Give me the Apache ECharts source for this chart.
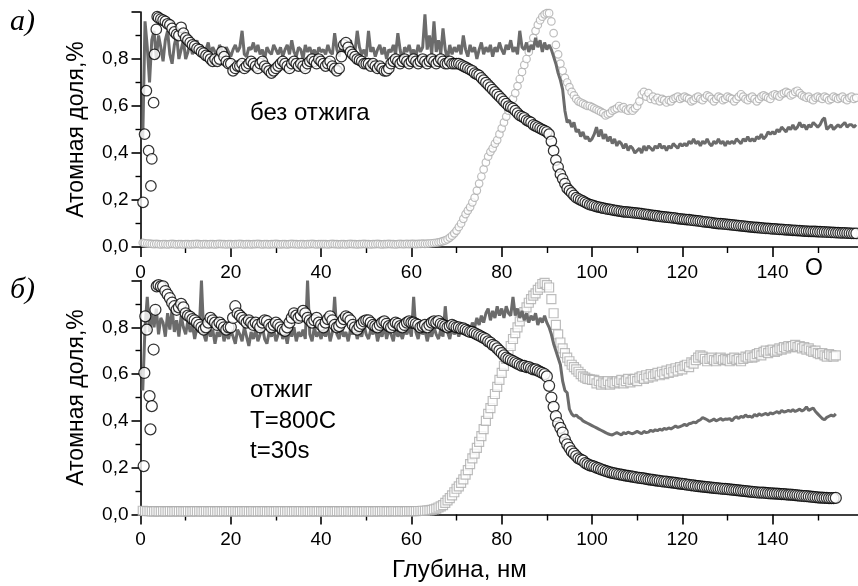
<!DOCTYPE html>
<html>
<head>
<meta charset="utf-8">
<script src="https://cdn.jsdelivr.net/npm/echarts@6/dist/echarts.min.js"></script>
<style>
  html, body { margin: 0; padding: 0; background: #fff; }
  #chart { width: 858px; height: 586px; }
</style>
</head>
<body>
<div id="chart"></div>
<script>
// Depth profiles (nm) of atomic fraction, sampled every 0.5 nm.
const STEP = 0.5;
const X_TICKS = [0, 20, 40, 60, 80, 100, 120, 140];
const Y_TICKS = [0.0, 0.2, 0.4, 0.6, 0.8];

// ---------- а) без отжига ----------
// dark line, from 0.5 nm
const lineA = [
  0.46,0.96,0.85,0.70,0.88,0.92,0.80,0.90,0.85,0.79, 0.88,0.92,0.82,0.78,0.86,0.90,0.80,0.84,0.88,0.80,
  0.83,0.87,0.82,0.85,0.88,0.83,0.86,0.81,0.84,0.87, 0.82,0.85,0.83,0.80,0.86,0.84,0.82,0.85,0.83,0.81,
  0.84,0.86,0.83,0.85,0.92,0.82,0.81,0.85,0.84,0.87, 0.83,0.86,0.82,0.84,0.80,0.85,0.83,0.82,0.86,0.84,
  0.82,0.85,0.81,0.84,0.86,0.82,0.88,0.83,0.81,0.85, 0.84,0.80,0.86,0.83,0.85,0.82,0.84,0.81,0.85,0.83,
  0.84,0.82,0.86,0.83,0.82,0.91,0.84,0.81,0.86,0.83, 0.85,0.82,0.88,0.84,0.83,0.92,0.85,0.82,0.84,0.81,
  0.92,0.83,0.85,0.81,0.84,0.86,0.82,0.85,0.80,0.84, 0.83,0.86,0.82,0.91,0.84,0.79,0.85,0.83,0.86,0.82,
  0.84,0.81,0.86,0.83,0.85,0.99,0.84,0.90,0.82,0.96, 0.83,0.88,0.82,0.93,0.84,0.80,0.86,0.82,0.85,0.83,
  0.86,0.82,0.90,0.84,0.81,0.86,0.83,0.85,0.80,0.84, 0.87,0.82,0.85,0.83,0.86,0.81,0.85,0.83,0.87,0.84,
  0.82,0.86,0.84,0.88,0.83,0.85,0.82,0.92,0.85,0.84, 0.87,0.83,0.86,0.84,0.89,0.85,0.88,0.83,0.87,0.84,
  0.86,0.84,0.81,0.78,0.74,0.71,0.67,0.58,0.53,0.54, 0.51,0.53,0.49,0.50,0.47,0.49,0.46,0.47,0.45,0.46,
  0.48,0.51,0.47,0.50,0.46,0.48,0.45,0.47,0.44,0.46, 0.43,0.45,0.44,0.42,0.44,0.41,0.43,0.42,0.40,0.41,
  0.42,0.40,0.43,0.41,0.43,0.42,0.41,0.43,0.42,0.44, 0.42,0.43,0.41,0.43,0.42,0.44,0.43,0.42,0.44,0.43,
  0.44,0.43,0.45,0.44,0.46,0.44,0.45,0.43,0.45,0.44, 0.46,0.44,0.43,0.45,0.44,0.46,0.44,0.45,0.43,0.45,
  0.44,0.45,0.44,0.46,0.45,0.44,0.46,0.45,0.47,0.45, 0.46,0.45,0.47,0.46,0.48,0.46,0.47,0.49,0.48,0.49,
  0.48,0.50,0.49,0.51,0.50,0.49,0.51,0.50,0.52,0.50, 0.51,0.53,0.51,0.52,0.50,0.52,0.51,0.53,0.52,0.51,
  0.52,0.54,0.55,0.50,0.51,0.52,0.50,0.51,0.52,0.51, 0.52,0.53,0.51,0.52,0.52,0.51,0.52
];
// light grey circles, from 0.5 nm
const grayA = [
  0.018,0.016,0.015,0.014,0.013,0.012,0.013,0.012,0.011,0.012, 0.012,0.011,0.012,0.013,0.012,0.011,0.012,0.012,0.011,0.012,
  0.012,0.011,0.012,0.012,0.013,0.012,0.011,0.012,0.012,0.011, 0.012,0.012,0.011,0.012,0.013,0.012,0.012,0.011,0.012,0.012,
  0.011,0.012,0.012,0.013,0.012,0.011,0.012,0.012,0.011,0.012, 0.012,0.013,0.012,0.011,0.012,0.012,0.011,0.012,0.012,0.013,
  0.012,0.011,0.012,0.012,0.011,0.012,0.013,0.012,0.012,0.011, 0.012,0.012,0.011,0.012,0.012,0.013,0.012,0.011,0.012,0.012,
  0.012,0.012,0.011,0.012,0.013,0.012,0.012,0.011,0.012,0.012, 0.011,0.012,0.013,0.012,0.012,0.011,0.012,0.012,0.013,0.012,
  0.012,0.011,0.012,0.012,0.013,0.012,0.011,0.012,0.012,0.013, 0.012,0.012,0.011,0.012,0.013,0.012,0.012,0.013,0.012,0.013,
  0.013,0.012,0.013,0.013,0.014,0.013,0.014,0.015,0.016,0.017, 0.018,0.020,0.022,0.025,0.028,0.033,0.040,0.048,0.058,0.070,
  0.085,0.100,0.120,0.140,0.155,0.170,0.190,0.210,0.240,0.270, 0.300,0.330,0.360,0.385,0.405,0.420,0.440,0.455,0.480,0.505,
  0.530,0.555,0.580,0.600,0.630,0.655,0.685,0.715,0.745,0.775, 0.800,0.830,0.860,0.890,0.920,0.945,0.965,0.980,0.990,0.995,
  0.995,0.960,0.910,0.860,0.820,0.780,0.750,0.720,0.700,0.680, 0.660,0.645,0.630,0.620,0.615,0.610,0.605,0.600,0.600,0.595,
  0.590,0.585,0.580,0.575,0.570,0.560,0.565,0.570,0.580,0.585, 0.590,0.600,0.590,0.595,0.585,0.580,0.590,0.580,0.590,0.600,
  0.620,0.650,0.660,0.640,0.655,0.630,0.640,0.625,0.635,0.620, 0.630,0.625,0.615,0.625,0.620,0.630,0.635,0.640,0.630,0.635,
  0.640,0.635,0.630,0.620,0.625,0.635,0.640,0.630,0.625,0.635, 0.645,0.640,0.630,0.620,0.630,0.640,0.635,0.625,0.630,0.640,
  0.635,0.630,0.620,0.630,0.640,0.650,0.640,0.630,0.625,0.635, 0.640,0.630,0.620,0.630,0.640,0.645,0.640,0.635,0.630,0.645,
  0.650,0.645,0.640,0.650,0.655,0.660,0.655,0.645,0.650,0.660, 0.665,0.655,0.645,0.640,0.635,0.640,0.630,0.625,0.635,0.640,
  0.635,0.630,0.640,0.635,0.625,0.630,0.640,0.635,0.630,0.635, 0.640,0.630,0.625,0.635,0.640,0.630,0.635
];
// open black circles: scattered surface points, then regular samples from 4.0 nm
const surfDepthA = [0.56, 0.9, 1.3, 1.8, 2.3, 2.5, 2.9, 3.1, 3.5, 3.7];
const surfA      = [0.19, 0.48, 0.665, 0.41, 0.26, 0.375, 0.614, 0.82, 0.926, 0.98];
const oxygenA = [
  0.975,0.970,0.965,0.960,0.950,0.945,0.930,0.915,0.905,0.900,0.935,0.910,0.890,
  0.880,0.870,0.860,0.855,0.845,0.840,0.830,0.825,0.815,0.810, 0.800,0.790,0.800,0.790,0.800,0.830,0.810,0.790,0.780,0.780,
  0.750,0.760,0.770,0.770,0.780,0.760,0.770,0.780,0.790,0.780, 0.770,0.760,0.780,0.790,0.770,0.760,0.750,0.740,0.750,0.760,
  0.770,0.780,0.790,0.780,0.770,0.760,0.780,0.790,0.780,0.770, 0.780,0.770,0.760,0.780,0.790,0.800,0.790,0.780,0.800,0.790,
  0.780,0.770,0.780,0.790,0.770,0.760,0.750,0.760,0.810,0.860, 0.870,0.850,0.830,0.820,0.810,0.800,0.795,0.790,0.780,0.780,
  0.780,0.770,0.780,0.770,0.760,0.770,0.760,0.750,0.750,0.760, 0.780,0.790,0.800,0.790,0.780,0.790,0.800,0.790,0.780,0.790,
  0.800,0.790,0.780,0.790,0.800,0.790,0.780,0.790,0.800,0.790, 0.780,0.790,0.800,0.790,0.780,0.780,0.790,0.780,0.780,0.780,
  0.780,0.775,0.770,0.765,0.760,0.755,0.750,0.740,0.735,0.730, 0.720,0.710,0.700,0.690,0.680,0.670,0.660,0.650,0.640,0.630,
  0.620,0.610,0.600,0.595,0.590,0.580,0.570,0.560,0.555,0.550, 0.540,0.535,0.530,0.520,0.515,0.510,0.505,0.500,0.495,0.490,
  0.480,0.450,0.410,0.370,0.340,0.310,0.290,0.270,0.250,0.240, 0.230,0.220,0.210,0.205,0.200,0.195,0.190,0.185,0.180,0.178,
  0.175,0.172,0.170,0.168,0.165,0.163,0.161,0.160,0.158,0.156, 0.155,0.153,0.152,0.150,0.149,0.148,0.147,0.146,0.145,0.144,
  0.143,0.142,0.140,0.139,0.138,0.136,0.135,0.133,0.132,0.130, 0.129,0.128,0.127,0.126,0.125,0.124,0.123,0.121,0.120,0.119,
  0.118,0.117,0.116,0.114,0.113,0.112,0.111,0.110,0.108,0.107, 0.106,0.105,0.104,0.102,0.101,0.100,0.099,0.098,0.097,0.096,
  0.095,0.094,0.093,0.092,0.091,0.090,0.089,0.088,0.087,0.086, 0.085,0.084,0.083,0.082,0.081,0.080,0.079,0.079,0.078,0.077,
  0.077,0.076,0.075,0.075,0.074,0.073,0.073,0.072,0.071,0.071, 0.070,0.070,0.069,0.068,0.068,0.067,0.067,0.066,0.066,0.065,
  0.065,0.064,0.064,0.063,0.063,0.062,0.062,0.061,0.061,0.060, 0.060,0.060,0.059,0.059,0.058,0.058,0.058
];

// ---------- б) отжиг T=800C, t=30s ----------
const lineB = [
  0.53,0.80,0.93,0.78,0.86,0.80,0.88,0.77,0.84,0.82, 0.76,0.86,0.79,0.88,0.78,0.83,0.76,0.85,0.80,0.77,
  0.83,0.78,0.81,0.75,0.80,0.78,1.00,0.77,0.74,0.80, 0.76,0.79,0.73,0.78,0.76,0.80,0.74,0.78,0.75,0.79,
  0.76,0.73,0.79,0.77,0.74,0.80,0.76,0.72,0.78,0.75, 0.79,0.74,0.77,0.80,0.75,0.73,0.78,0.76,0.79,0.74,
  0.77,0.80,0.75,0.78,0.73,0.79,0.76,0.80,0.74,0.78, 0.76,0.79,0.75,1.00,0.77,0.74,0.80,0.76,0.78,0.75,
  0.79,0.76,0.80,0.74,0.78,0.93,0.77,0.75,0.80,0.76, 0.78,0.74,0.79,0.77,0.80,0.75,0.78,0.76,0.81,0.77,
  0.75,0.79,0.77,0.80,0.74,0.78,0.76,0.81,0.75,0.79, 0.77,0.74,0.80,0.76,0.78,0.75,0.79,0.77,0.80,0.76,
  0.93,0.78,0.75,0.80,0.77,0.79,0.74,0.78,0.76,0.80, 0.77,0.75,0.79,0.76,0.89,0.78,0.75,0.80,0.77,0.79,
  0.76,0.80,0.77,0.79,0.81,0.78,0.82,0.80,0.84,0.81, 0.85,0.82,0.86,0.88,0.83,0.87,0.84,0.89,0.85,0.88,
  0.84,0.89,0.86,0.85,0.93,0.85,0.88,0.84,0.87,0.83, 0.86,0.82,0.85,0.83,0.86,0.81,0.84,0.82,0.85,0.82,
  0.80,0.77,0.73,0.70,0.67,0.64,0.57,0.53,0.52,0.45, 0.43,0.42,0.425,0.415,0.41,0.40,0.395,0.39,0.385,0.38,
  0.375,0.37,0.365,0.36,0.355,0.35,0.345,0.342,0.34,0.345, 0.35,0.345,0.34,0.35,0.345,0.352,0.348,0.345,0.35,0.355,
  0.35,0.345,0.355,0.35,0.352,0.36,0.355,0.362,0.358,0.365, 0.36,0.368,0.364,0.37,0.366,0.372,0.378,0.372,0.376,0.38,
  0.385,0.38,0.388,0.39,0.395,0.392,0.40,0.405,0.414,0.41, 0.405,0.398,0.402,0.408,0.40,0.405,0.41,0.403,0.408,0.407,
  0.41,0.40,0.412,0.418,0.41,0.42,0.415,0.425,0.418,0.42, 0.415,0.428,0.42,0.43,0.424,0.428,0.432,0.425,0.435,0.43,
  0.435,0.44,0.432,0.445,0.438,0.44,0.445,0.44,0.448,0.44, 0.445,0.45,0.442,0.448,0.46,0.445,0.45,0.455,0.44,0.43,
  0.42,0.41,0.405,0.415,0.42,0.425,0.42,0.43
];
// light grey squares, from 0.5 nm
const grayB = [
  0.016,0.015,0.014,0.014,0.013,0.013,0.014,0.013,0.013,0.014, 0.013,0.013,0.014,0.013,0.013,0.014,0.013,0.014,0.013,0.013,
  0.014,0.013,0.013,0.014,0.013,0.014,0.013,0.013,0.014,0.013, 0.013,0.014,0.013,0.013,0.014,0.013,0.013,0.014,0.013,0.014,
  0.013,0.014,0.013,0.013,0.014,0.013,0.014,0.013,0.013,0.014, 0.013,0.013,0.014,0.013,0.014,0.013,0.013,0.014,0.013,0.013,
  0.014,0.013,0.014,0.013,0.013,0.014,0.013,0.013,0.014,0.013, 0.014,0.013,0.013,0.014,0.013,0.013,0.014,0.013,0.014,0.013,
  0.013,0.014,0.013,0.014,0.013,0.013,0.014,0.013,0.013,0.014, 0.013,0.014,0.013,0.013,0.014,0.013,0.014,0.013,0.013,0.014,
  0.013,0.014,0.013,0.013,0.014,0.013,0.014,0.014,0.013,0.014, 0.013,0.014,0.014,0.013,0.014,0.014,0.013,0.014,0.014,0.014,
  0.014,0.014,0.015,0.015,0.016,0.016,0.017,0.018,0.020,0.022, 0.025,0.030,0.035,0.040,0.050,0.060,0.070,0.082,0.095,0.110,
  0.120,0.135,0.150,0.170,0.190,0.215,0.240,0.260,0.285,0.310, 0.335,0.365,0.400,0.430,0.455,0.485,0.515,0.545,0.575,0.605,
  0.635,0.665,0.690,0.720,0.750,0.775,0.800,0.825,0.845,0.865, 0.885,0.905,0.920,0.935,0.945,0.960,0.970,0.985,0.990,0.980,
  0.970,0.920,0.860,0.810,0.770,0.735,0.710,0.690,0.670,0.655, 0.640,0.630,0.620,0.610,0.600,0.590,0.585,0.580,0.578,0.575,
  0.575,0.560,0.570,0.555,0.565,0.560,0.570,0.555,0.565,0.560, 0.570,0.565,0.575,0.560,0.570,0.580,0.565,0.575,0.580,0.570,
  0.585,0.590,0.580,0.595,0.585,0.600,0.590,0.600,0.605,0.595, 0.610,0.600,0.615,0.605,0.620,0.610,0.625,0.615,0.630,0.620,
  0.635,0.640,0.630,0.650,0.645,0.660,0.670,0.680,0.675,0.665, 0.655,0.665,0.670,0.660,0.655,0.665,0.670,0.660,0.665,0.660,
  0.655,0.665,0.670,0.660,0.665,0.655,0.665,0.675,0.670,0.680, 0.670,0.675,0.685,0.690,0.680,0.695,0.700,0.690,0.700,0.705,
  0.695,0.700,0.710,0.705,0.715,0.710,0.720,0.715,0.720,0.725, 0.715,0.720,0.710,0.715,0.705,0.710,0.700,0.695,0.700,0.690,
  0.685,0.690,0.680,0.675,0.685,0.680,0.675,0.680
];
const surfDepthB = [0.7, 0.85, 1.06, 1.4, 2.0, 2.2, 2.5, 2.9, 3.3, 3.6];
const surfB      = [0.207, 0.605, 0.847, 0.79, 0.506, 0.364, 0.463, 0.705, 0.875, 0.975];
const oxygenB = [
  0.980,0.975,0.975,0.955,0.940,0.925,0.905,0.890,0.875,0.885,0.900,0.885,0.860,
  0.850,0.845,0.835,0.830,0.820,0.810,0.800,0.790,0.800,0.820, 0.840,0.830,0.820,0.810,0.820,0.810,0.800,0.790,0.800,0.800,
  0.840,0.890,0.860,0.850,0.840,0.830,0.820,0.830,0.820,0.810, 0.820,0.810,0.800,0.820,0.830,0.826,0.810,0.800,0.810,0.820,
  0.810,0.800,0.790,0.785,0.800,0.820,0.840,0.860,0.850,0.840, 0.850,0.870,0.860,0.840,0.830,0.820,0.830,0.840,0.820,0.810,
  0.800,0.820,0.835,0.847,0.830,0.810,0.800,0.805,0.820,0.835, 0.847,0.840,0.830,0.810,0.800,0.790,0.805,0.815,0.825,0.830,
  0.830,0.820,0.810,0.805,0.800,0.810,0.820,0.825,0.815,0.805, 0.800,0.810,0.820,0.815,0.805,0.800,0.810,0.820,0.825,0.820,
  0.820,0.815,0.810,0.800,0.805,0.810,0.800,0.810,0.820,0.825, 0.820,0.826,0.815,0.810,0.805,0.800,0.805,0.810,0.805,0.800,
  0.800,0.795,0.795,0.790,0.785,0.780,0.780,0.775,0.770,0.765, 0.760,0.755,0.750,0.740,0.735,0.725,0.720,0.710,0.700,0.690,
  0.680,0.670,0.665,0.660,0.655,0.650,0.645,0.640,0.635,0.635, 0.630,0.630,0.625,0.620,0.620,0.615,0.610,0.605,0.600,0.590,
  0.550,0.500,0.460,0.420,0.390,0.370,0.350,0.320,0.300,0.285, 0.270,0.260,0.250,0.240,0.235,0.230,0.220,0.215,0.210,0.208,
  0.205,0.200,0.197,0.193,0.190,0.186,0.183,0.180,0.178,0.176, 0.174,0.172,0.170,0.168,0.166,0.165,0.163,0.162,0.160,0.158,
  0.157,0.155,0.154,0.152,0.150,0.149,0.148,0.146,0.145,0.144, 0.142,0.141,0.140,0.138,0.137,0.136,0.135,0.133,0.132,0.131,
  0.130,0.128,0.127,0.125,0.124,0.122,0.121,0.120,0.119,0.118, 0.117,0.116,0.115,0.114,0.113,0.112,0.111,0.110,0.109,0.108,
  0.107,0.106,0.105,0.104,0.103,0.102,0.101,0.100,0.099,0.098, 0.097,0.096,0.095,0.094,0.094,0.093,0.092,0.091,0.090,0.090,
  0.089,0.089,0.088,0.087,0.087,0.086,0.085,0.085,0.084,0.083, 0.082,0.081,0.080,0.079,0.078,0.077,0.076,0.075,0.074,0.073,
  0.072,0.072,0.071,0.071,0.070,0.070,0.070,0.071
];

// ---------- helpers ----------
function seq(start, values) { return values.map((v, i) => [start + i * STEP, v]); }
function pairs(depths, values) { return depths.map((d, i) => [d, values[i]]); }

const FONT = '"Liberation Sans", Arial, Helvetica, sans-serif';
const GRID_LEFT = 140.5, GRID_WIDTH = 722.4;

function xAxisFor(gridIndex) {
  return {
    type: 'value', gridIndex, min: 0, max: 160, interval: 20,
    axisLine: { show: true, onZero: false, lineStyle: { color: '#000', width: 1.6 } },
    axisTick: { show: true, inside: false, length: 10, lineStyle: { color: '#000', width: 1.6 } },
    minorTick: { show: true, splitNumber: 2, length: 6, lineStyle: { color: '#000', width: 1.4 } },
    splitLine: { show: false }, minorSplitLine: { show: false },
    axisLabel: {
      margin: 16, fontSize: 19, color: '#000', fontFamily: FONT,
      formatter: v => (X_TICKS.indexOf(v) >= 0 ? String(v) : '')
    }
  };
}
function yAxisFor(gridIndex) {
  return {
    type: 'value', gridIndex, min: 0, max: 1, interval: 0.2,
    name: 'Атомная доля,%', nameLocation: 'middle', nameGap: 52,
    nameTextStyle: { fontSize: 23, color: '#000', fontFamily: FONT },
    axisLine: { show: true, onZero: false, lineStyle: { color: '#000', width: 1.6 } },
    axisTick: { show: true, inside: false, length: 9, lineStyle: { color: '#000', width: 1.6 } },
    minorTick: { show: true, splitNumber: 2, length: 5, lineStyle: { color: '#000', width: 1.4 } },
    splitLine: { show: false }, minorSplitLine: { show: false },
    axisLabel: {
      margin: 12, fontSize: 19, color: '#000', fontFamily: FONT,
      formatter: v => {
        const t = Y_TICKS.find(k => Math.abs(k - v) < 1e-6);
        return t === undefined ? '' : t.toFixed(1).replace('.', ',');
      }
    }
  };
}

function panelSeries(idx, line, gray, grayShape, graySize, surfD, surfV, oxygen, oxySize) {
  return [
    {
      type: 'scatter', xAxisIndex: idx, yAxisIndex: idx, z: 2,
      symbol: grayShape, symbolSize: graySize,
      itemStyle: { color: '#fff', borderColor: '#adadad', borderWidth: 1.2 },
      data: seq(0.5, gray)
    },
    {
      type: 'line', xAxisIndex: idx, yAxisIndex: idx, z: 3,
      showSymbol: false, symbol: 'none',
      lineStyle: { color: '#6b6b6b', width: 3 },
      data: seq(0.5, line)
    },
    {
      type: 'scatter', xAxisIndex: idx, yAxisIndex: idx, z: 4,
      symbol: 'circle', symbolSize: oxySize,
      itemStyle: { color: '#fff', borderColor: '#000', borderWidth: 1.25 },
      data: pairs(surfD, surfV).concat(seq(4.0, oxygen))
    }
  ];
}

const chart = echarts.init(document.getElementById('chart'), null, { renderer: 'canvas' });
chart.setOption({
  animation: false,
  backgroundColor: '#fff',
  textStyle: { fontFamily: FONT },
  grid: [
    { left: GRID_LEFT, top: 12, width: GRID_WIDTH, height: 235, outerBoundsMode: 'none', containLabel: false },
    { left: GRID_LEFT, top: 280.5, width: GRID_WIDTH, height: 234, outerBoundsMode: 'none', containLabel: false }
  ],
  xAxis: [xAxisFor(0), xAxisFor(1)],
  yAxis: [yAxisFor(0), yAxisFor(1)],
  series: [
    ...panelSeries(0, lineA, grayA, 'circle', 7.5, surfDepthA, surfA, oxygenA, 10.5),
    ...panelSeries(1, lineB, grayB, 'rect', 9, surfDepthB, surfB, oxygenB, 11)
  ],
  graphic: [
    { type: 'text', left: 10, top: 7, style: { text: 'а)', font: 'italic 30px "Liberation Serif", "Times New Roman", serif', fill: '#000' } },
    { type: 'text', left: 10, top: 275, style: { text: 'б)', font: 'italic 30px "Liberation Serif", "Times New Roman", serif', fill: '#000' } },
    { type: 'text', left: 250, top: 101, style: { text: 'без отжига', font: '24px ' + FONT, fill: '#000' } },
    { type: 'text', left: 250, top: 378, style: { text: 'отжиг', font: '24px ' + FONT, fill: '#000' } },
    { type: 'text', left: 250, top: 409, style: { text: 'T=800C', font: '24px ' + FONT, fill: '#000' } },
    { type: 'text', left: 250, top: 439, style: { text: 't=30s', font: '24px ' + FONT, fill: '#000' } },
    { type: 'text', left: 805, top: 257, style: { text: 'O', font: '23px ' + FONT, fill: '#000' } },
    { type: 'text', left: 392, top: 558, style: { text: 'Глубина, нм', font: '24px ' + FONT, fill: '#000' } }
  ]
});
</script>
</body>
</html>
